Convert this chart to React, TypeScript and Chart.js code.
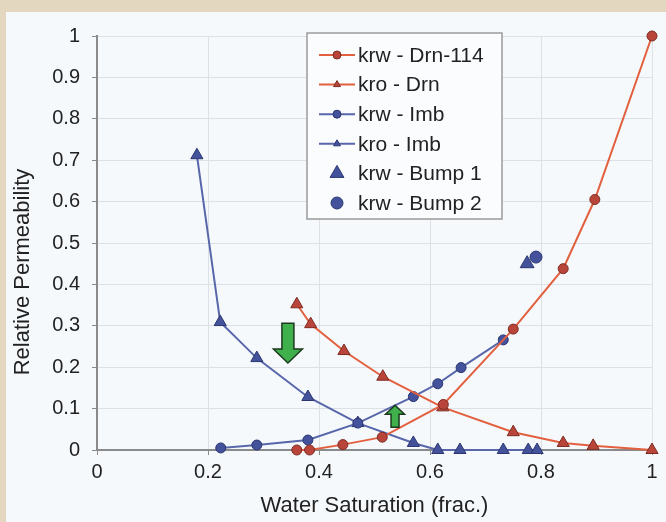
import React, { useEffect, useRef } from "react";
import { Chart, registerables } from "chart.js";

Chart.register(...registerables);

// ---- data ----
const krwDrnX = [0.36, 0.383, 0.443, 0.514, 0.624, 0.75, 0.84, 0.897, 1.0];
const krwDrnY = [0.0, 0.0, 0.013, 0.031, 0.11, 0.292, 0.438, 0.605, 1.0];
const kroDrnX = [0.36, 0.385, 0.445, 0.515, 0.623, 0.75, 0.84, 0.894, 1.0];
const kroDrnY = [0.352, 0.304, 0.239, 0.177, 0.103, 0.043, 0.017, 0.01, 0.0];
const krwImbX = [0.223, 0.288, 0.38, 0.47, 0.57, 0.614, 0.656, 0.732];
const krwImbY = [0.005, 0.012, 0.024, 0.065, 0.129, 0.16, 0.199, 0.266];
const kroImbX = [0.18, 0.222, 0.288, 0.38, 0.47, 0.57, 0.614, 0.654, 0.732, 0.777, 0.793];
const kroImbY = [0.712, 0.309, 0.222, 0.128, 0.065, 0.017, 0.0, 0.0, 0.0, 0.0, 0.0];
const bump1X = [0.775];
const bump1Y = [0.45];
const bump2X = [0.791];
const bump2Y = [0.466];

const seriesLabels = [
  "krw - Drn-114",
  "kro - Drn",
  "krw - Imb",
  "kro - Imb",
  "krw - Bump 1",
  "krw - Bump 2",
];

// arrow annotations: [x, yFrom, yTip]
const arrowDown = [0.344, 0.306, 0.21];
const arrowUp = [0.537, 0.055, 0.108];

const xTitle = "Water Saturation (frac.)";
const yTitle = "Relative Permeability";

// ---- styles ----
const FONT = "'Liberation Sans', Arial, sans-serif";
const RED_LINE = "#e2603f";
const RED_FILL = "#b9453a";
const RED_EDGE = "#7c2b22";
const BLUE_LINE = "#5866aa";
const BLUE_FILL = "#44529c";
const BLUE_EDGE = "#2b3570";
const TEXT = "#222222";

const pts = (xs: number[], ys: number[]) => xs.map((x, i) => ({ x, y: ys[i] }));
const fmt = (v: any) => String(Number(Number(v).toFixed(2)));

function drawMarker(ctx: CanvasRenderingContext2D, style: string, x: number, y: number, r: number, fill: string, edge: string) {
  ctx.beginPath();
  if (style === "triangle") {
    let rad = 0;
    ctx.moveTo(x + Math.sin(rad) * r, y - Math.cos(rad) * r);
    rad += (2 * Math.PI) / 3;
    ctx.lineTo(x + Math.sin(rad) * r, y - Math.cos(rad) * r);
    rad += (2 * Math.PI) / 3;
    ctx.lineTo(x + Math.sin(rad) * r, y - Math.cos(rad) * r);
    ctx.closePath();
  } else {
    ctx.arc(x, y, r, 0, Math.PI * 2);
  }
  ctx.fillStyle = fill;
  ctx.fill();
  ctx.lineWidth = 1;
  ctx.strokeStyle = edge;
  ctx.stroke();
}

const customLegend = {
  id: "customLegend",
  afterDraw(chart: any) {
    const ctx = chart.ctx as CanvasRenderingContext2D;
    const left = 301, top = 21, right = 496, bottom = 207;
    ctx.save();
    ctx.fillStyle = "#fbfcfe";
    ctx.fillRect(left, top, right - left, bottom - top);
    ctx.strokeStyle = "#9a9a9a";
    ctx.lineWidth = 1.5;
    ctx.strokeRect(left, top, right - left, bottom - top);
    const rowY0 = 43, pitch = 29.6;
    chart.data.datasets.forEach((ds: any, i: number) => {
      const y = rowY0 + i * pitch;
      if (ds.showLine) {
        ctx.beginPath();
        ctx.moveTo(313, y);
        ctx.lineTo(349, y);
        ctx.strokeStyle = ds.borderColor;
        ctx.lineWidth = 2;
        ctx.stroke();
      }
      const r = ds.showLine ? 4 : ds.pointRadius;
      drawMarker(ctx, ds.pointStyle, 331, y, r, ds.pointBackgroundColor, ds.pointBorderColor);
      ctx.fillStyle = TEXT;
      ctx.font = `21px ${FONT}`;
      ctx.textAlign = "left";
      ctx.textBaseline = "middle";
      ctx.fillText(ds.label, 352, y + 1);
    });
    ctx.restore();
  },
};

function drawArrow(ctx: CanvasRenderingContext2D, x: number, yFrom: number, yTip: number, shaftW: number, headW: number, headL: number) {
  const dir = yTip > yFrom ? 1 : -1;
  const yHead = yTip - dir * headL;
  ctx.beginPath();
  ctx.moveTo(x - shaftW / 2, yFrom);
  ctx.lineTo(x + shaftW / 2, yFrom);
  ctx.lineTo(x + shaftW / 2, yHead);
  ctx.lineTo(x + headW / 2, yHead);
  ctx.lineTo(x, yTip);
  ctx.lineTo(x - headW / 2, yHead);
  ctx.lineTo(x - shaftW / 2, yHead);
  ctx.closePath();
  ctx.fillStyle = "#3fb04c";
  ctx.fill();
  ctx.strokeStyle = "#1d3a1f";
  ctx.lineWidth = 1.5;
  ctx.stroke();
}

const annotations = {
  id: "annotations",
  afterDatasetsDraw(chart: any) {
    const ctx = chart.ctx as CanvasRenderingContext2D;
    const xs = chart.scales.x, ys = chart.scales.y;
    ctx.save();
    drawArrow(ctx, xs.getPixelForValue(arrowDown[0]), ys.getPixelForValue(arrowDown[1]), ys.getPixelForValue(arrowDown[2]), 12, 29, 14);
    drawArrow(ctx, xs.getPixelForValue(arrowUp[0]), ys.getPixelForValue(arrowUp[1]), ys.getPixelForValue(arrowUp[2]), 8, 19, 9);
    // y-axis title
    ctx.translate(17, 260);
    ctx.rotate(-Math.PI / 2);
    ctx.font = `22px ${FONT}`;
    ctx.fillStyle = TEXT;
    ctx.textAlign = "center";
    ctx.textBaseline = "middle";
    ctx.fillText(yTitle, 0, 0);
    ctx.restore();
  },
};

export default function App() {
  const ref = useRef<HTMLCanvasElement | null>(null);

  useEffect(() => {
    if (!ref.current) return;
    const lineDs = (label: string, data: any, line: string, fill: string, edge: string, style: string, r: number) => ({
      label,
      data,
      showLine: true,
      borderColor: line,
      borderWidth: 2,
      pointStyle: style,
      pointRadius: r,
      pointBackgroundColor: fill,
      pointBorderColor: edge,
      pointBorderWidth: 1,
      clip: false as any,
      tension: 0,
    });
    const chart = new Chart(ref.current, {
      type: "scatter",
      data: {
        datasets: [
          lineDs(seriesLabels[0], pts(krwDrnX, krwDrnY), RED_LINE, RED_FILL, RED_EDGE, "circle", 5),
          lineDs(seriesLabels[1], pts(kroDrnX, kroDrnY), RED_LINE, RED_FILL, RED_EDGE, "triangle", 7),
          lineDs(seriesLabels[2], pts(krwImbX, krwImbY), BLUE_LINE, BLUE_FILL, BLUE_EDGE, "circle", 5),
          lineDs(seriesLabels[3], pts(kroImbX, kroImbY), BLUE_LINE, BLUE_FILL, BLUE_EDGE, "triangle", 7),
          {
            label: seriesLabels[4],
            data: pts(bump1X, bump1Y),
            showLine: false,
            pointStyle: "triangle",
            pointRadius: 8,
            pointBackgroundColor: BLUE_FILL,
            pointBorderColor: BLUE_EDGE,
            pointBorderWidth: 1,
            clip: false as any,
          },
          {
            label: seriesLabels[5],
            data: pts(bump2X, bump2Y),
            showLine: false,
            pointStyle: "circle",
            pointRadius: 6,
            pointBackgroundColor: BLUE_FILL,
            pointBorderColor: BLUE_EDGE,
            pointBorderWidth: 1,
            clip: false as any,
          },
        ] as any,
      },
      options: {
        responsive: false,
        animation: false,
        devicePixelRatio: 1,
        layout: { padding: { top: 20, right: 14, left: 0, bottom: 0 } },
        plugins: { legend: { display: false }, tooltip: { enabled: false } },
        scales: {
          x: {
            type: "linear",
            min: 0,
            max: 1,
            ticks: { stepSize: 0.2, font: { family: FONT, size: 20 }, color: TEXT, padding: 5, callback: fmt },
            grid: { color: "#dde0e5", lineWidth: 1, tickColor: "#8a8a8a", tickLength: 5 },
            border: { color: "#8a8a8a", width: 2 },
            title: { display: true, text: xTitle, font: { family: FONT, size: 22 }, color: TEXT, padding: { top: 0, bottom: 3 } },
            afterFit: (s: any) => { s.height = 72; },
          },
          y: {
            type: "linear",
            min: 0,
            max: 1,
            ticks: { stepSize: 0.1, font: { family: FONT, size: 20 }, color: TEXT, padding: 12, callback: fmt },
            grid: { color: "#dde0e5", lineWidth: 1, tickColor: "#8a8a8a", tickLength: 5 },
            border: { color: "#8a8a8a", width: 2 },
            afterFit: (s: any) => { s.width = 91; },
          },
        },
      } as any,
      plugins: [annotations, customLegend],
    });
    return () => chart.destroy();
  }, []);

  return (
    <div style={{ position: "fixed", left: 0, top: 0, width: 666, height: 522, background: "#e3d7bf" }}>
      <div style={{ position: "absolute", left: 6, top: 12, width: 660, height: 510, background: "#f6f9fc" }}>
        <canvas ref={ref} width={660} height={510} style={{ display: "block", width: 660, height: 510 }} />
      </div>
    </div>
  );
}
